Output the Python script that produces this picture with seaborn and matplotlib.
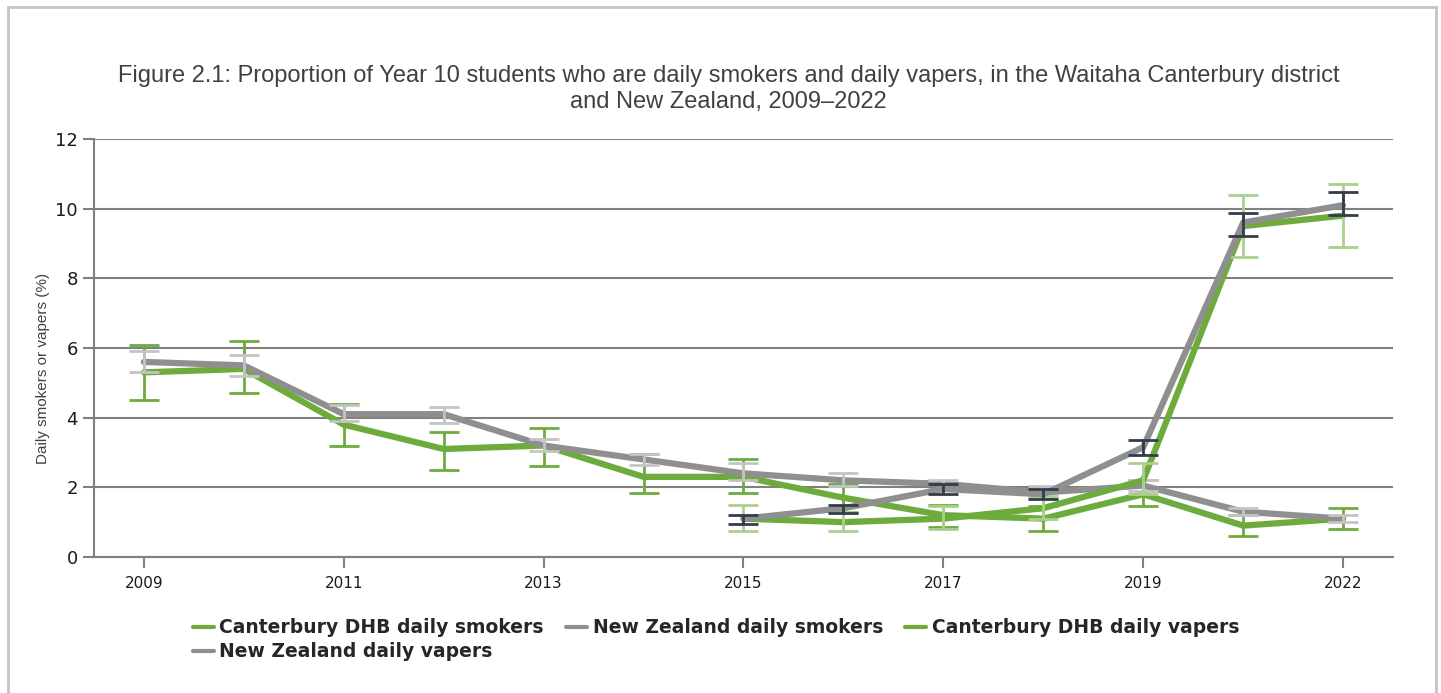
import numpy as np
import pandas as pd
import matplotlib.pyplot as plt
import seaborn as sns
from matplotlib.lines import Line2D
from matplotlib.patches import Rectangle

# Data
years = ['2009', '2010', '2011', '2012', '2013', '2014', '2015', '2016',
         '2017', '2018', '2019', '2021', '2022']
nan = np.nan

cant_smokers = [5.3, 5.4, 3.8, 3.1, 3.2, 2.3, 2.3, 1.7, 1.2, 1.1, 1.8, 0.9, 1.1]
cant_smokers_lo = [4.5, 4.7, 3.2, 2.5, 2.6, 1.85, 1.85, 1.3, 0.85, 0.75, 1.45, 0.6, 0.8]
cant_smokers_hi = [6.1, 6.2, 4.4, 3.6, 3.7, 2.95, 2.8, 2.1, 1.5, 1.45, 2.2, 1.2, 1.4]

nz_smokers = [5.6, 5.5, 4.1, 4.1, 3.2, 2.8, 2.4, 2.2, 2.1, 1.85, 2.05, 1.3, 1.1]
nz_smokers_lo = [5.3, 5.2, 3.9, 3.85, 3.05, 2.65, 2.2, 2.05, 1.95, 1.7, 1.9, 1.2, 1.0]
nz_smokers_hi = [5.9, 5.8, 4.35, 4.3, 3.4, 2.95, 2.7, 2.4, 2.2, 2.05, 2.2, 1.4, 1.2]

cant_vapers = [nan] * 6 + [1.1, 1.0, 1.1, 1.4, 2.2, 9.5, 9.8]
cant_vapers_lo = [nan] * 6 + [0.75, 0.75, 0.8, 1.1, 1.8, 8.6, 8.9]
cant_vapers_hi = [nan] * 6 + [1.5, 1.3, 1.45, 1.75, 2.7, 10.4, 10.7]

nz_vapers = [nan] * 6 + [1.1, 1.4, 1.95, 1.8, 3.15, 9.6, 10.1]
nz_vapers_lo = [nan] * 6 + [0.95, 1.25, 1.82, 1.65, 2.92, 9.22, 9.82]
nz_vapers_hi = [nan] * 6 + [1.2, 1.5, 2.09, 1.95, 3.37, 9.87, 10.48]

labels = ['Canterbury DHB daily smokers', 'New Zealand daily smokers',
          'Canterbury DHB daily vapers', 'New Zealand daily vapers']
GREEN = '#6cab3c'
GREY = '#8f8f8f'
line_colors = [GREEN, GREY, GREEN, GREY]
err_colors = ['#6cab3c', '#c4c4c4', '#a9d18e', '#323c4a']

series = [(cant_smokers, cant_smokers_lo, cant_smokers_hi),
          (nz_smokers, nz_smokers_lo, nz_smokers_hi),
          (cant_vapers, cant_vapers_lo, cant_vapers_hi),
          (nz_vapers, nz_vapers_lo, nz_vapers_hi)]

# Long-form table for seaborn
rows = []
for lab, (vals, lo, hi) in zip(labels, series):
    for i, y in enumerate(years):
        rows.append({'pos': i, 'year': y, 'series': lab,
                     'value': vals[i], 'lo': lo[i], 'hi': hi[i]})
df = pd.DataFrame(rows)

sns.set_style('white')
plt.rcParams['font.family'] = ['Liberation Sans', 'DejaVu Sans']
narrow = ['Liberation Sans Narrow', 'DejaVu Sans']

fig = plt.figure(figsize=(14.41, 6.93), dpi=100)
ax = fig.add_axes([0.0652, 0.1963, 0.9015, 0.6031])

for k, lab in enumerate(labels):
    d = df[df['series'] == lab].dropna(subset=['value'])
    sns.lineplot(data=d, x='pos', y='value', color=line_colors[k],
                 linewidth=4.5, ax=ax, sort=False, zorder=3 + k)
    ax.errorbar(d['pos'], d['value'],
                yerr=[d['value'] - d['lo'], d['hi'] - d['value']],
                fmt='none', ecolor=err_colors[k], elinewidth=2,
                capsize=11, capthick=2, zorder=3 + k)

ax.set_xlim(-0.5, len(years) - 0.5)
ax.set_ylim(0, 12)
ax.set_xticks(range(0, len(years), 2))
ax.set_xticklabels(years[::2], family=narrow, fontsize=11, color='#1a1a1a')
ax.set_yticks(range(0, 13, 2))
ax.set_yticklabels([str(v) for v in range(0, 13, 2)], family=narrow,
                   fontsize=13, color='#1a1a1a')
ax.tick_params(axis='both', direction='out', length=8, width=1.5,
               color='#808080', left=True, bottom=True)
ax.tick_params(axis='x', pad=6)
ax.grid(axis='y', color='#808080', linewidth=1.5)
ax.set_axisbelow(True)
for side in ['top', 'right']:
    ax.spines[side].set_visible(False)
for side in ['left', 'bottom']:
    ax.spines[side].set_color('#808080')
    ax.spines[side].set_linewidth(1.5)
ax.set_xlabel('')
ax.set_ylabel('Daily smokers or vapers (%)', fontsize=11, color='#404040')
ax.yaxis.set_label_coords(-0.034, 0.45)

fig.text(0.5055, 0.8716,
         'Figure 2.1: Proportion of Year 10 students who are daily smokers and '
         'daily vapers, in the Waitaha Canterbury district\n'
         'and New Zealand, 2009\u20132022',
         ha='center', va='center', fontsize=17, color='#404040',
         linespacing=1.2)

# Legend filled column-wise, so order handles to read row by row
handles = [Line2D([], [], color=c, linewidth=3) for c in line_colors]
order = [0, 3, 1, 2]
fig.legend([handles[i] for i in order], [labels[i] for i in order],
           loc='upper center', bbox_to_anchor=(0.497, 0.132), ncol=3,
           frameon=False, handlelength=1.1, handletextpad=0.3,
           columnspacing=1.2, labelspacing=0.25,
           prop={'family': narrow, 'weight': 'bold', 'size': 13.5},
           labelcolor='#262626')

# Light outer frame
fig.patches.append(Rectangle((8 / 1441, -0.02), 1428 / 1441, 1.01,
                             transform=fig.transFigure, fill=False,
                             edgecolor='#c4c4c4', linewidth=2))

fig.savefig('out.png', dpi=100)
